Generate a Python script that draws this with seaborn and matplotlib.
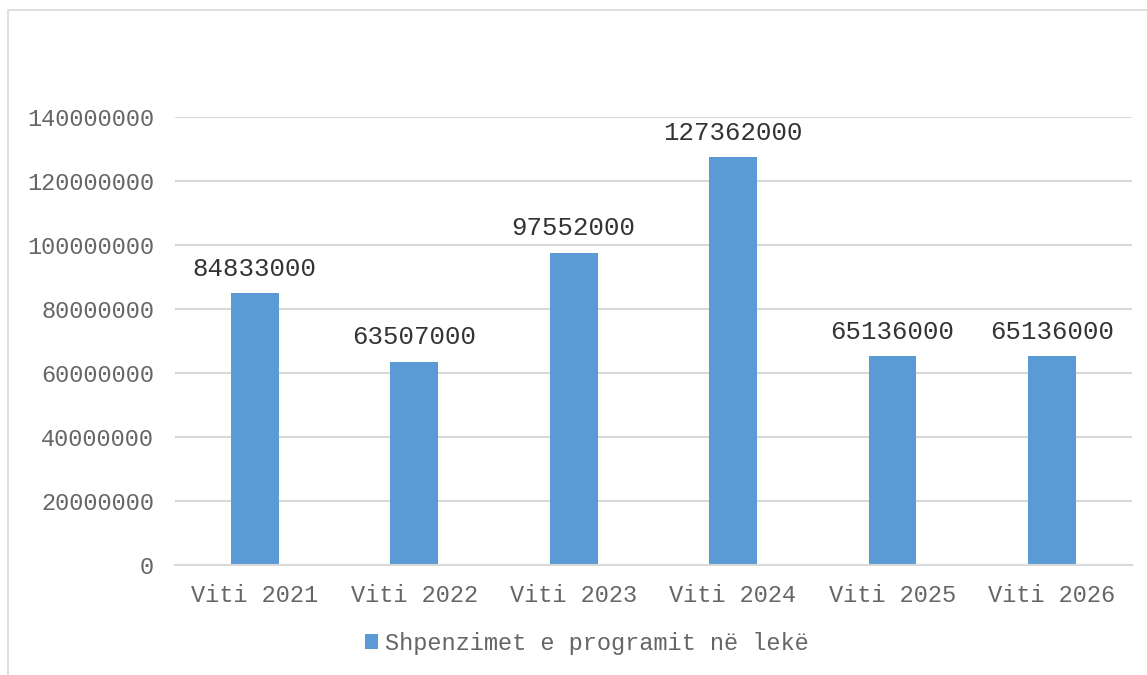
import pandas as pd
import matplotlib
matplotlib.use('Agg')
import matplotlib.pyplot as plt
import seaborn as sns
from matplotlib.patches import Rectangle

YEARS = ['Viti 2021', 'Viti 2022', 'Viti 2023', 'Viti 2024', 'Viti 2025', 'Viti 2026']
SPENDING = [84833000, 63507000, 97552000, 127362000, 65136000, 65136000]
SERIES = 'Shpenzimet e programit në lekë'
YTICKS = [0, 20000000, 40000000, 60000000, 80000000, 100000000, 120000000, 140000000]

df = pd.DataFrame({'year': YEARS, 'value': SPENDING, 'series': SERIES})

sns.set_style('white')
plt.rcParams['font.family'] = ['Liberation Mono', 'DejaVu Sans']

fig = plt.figure(figsize=(11.47, 6.75), dpi=100)
ax = fig.add_axes([0.1526, 0.163, 0.834, 0.664])

sns.barplot(data=df, x='year', y='value', hue='series', palette=['#5b9bd5'],
            saturation=1, width=0.3, linewidth=0, ax=ax, legend=True)

ax.set_ylim(0, 140000000)
ax.set_yticks(YTICKS)
ax.set_yticklabels([str(v) for v in YTICKS])
ax.set_xlim(-0.5, len(YEARS) - 0.5)
ax.yaxis.grid(True, color='#d9d9d9', linewidth=1.5)
ax.set_axisbelow(True)
for s in ['top', 'right', 'left']:
    ax.spines[s].set_visible(False)
ax.spines['bottom'].set_color('#d9d9d9')
ax.spines['bottom'].set_linewidth(1.5)
ax.tick_params(axis='both', length=0, labelsize=17, colors='#666666')
ax.tick_params(axis='y', pad=15)
ax.tick_params(axis='x', pad=14)
ax.set_xlabel('')
ax.set_ylabel('')

for c in ax.containers:
    ax.bar_label(c, labels=[str(v) for v in SPENDING], padding=9,
                 fontsize=18.5, color='#333333')

ax.get_legend().remove()
h, l = ax.get_legend_handles_labels()
fig.legend(h[:1], l[:1], loc='center', bbox_to_anchor=(0.512, 0.047),
           frameon=False, fontsize=17, labelcolor='#666666',
           handlelength=0.55, handleheight=0.55, handletextpad=0.3)

fig.patches.append(Rectangle((8 / 1147, -0.1), 1.2, 1 - 10 / 675 + 0.1,
                             transform=fig.transFigure, fill=False,
                             edgecolor='#d9d9d9', linewidth=1.2))

fig.savefig('out.png', dpi=100)
